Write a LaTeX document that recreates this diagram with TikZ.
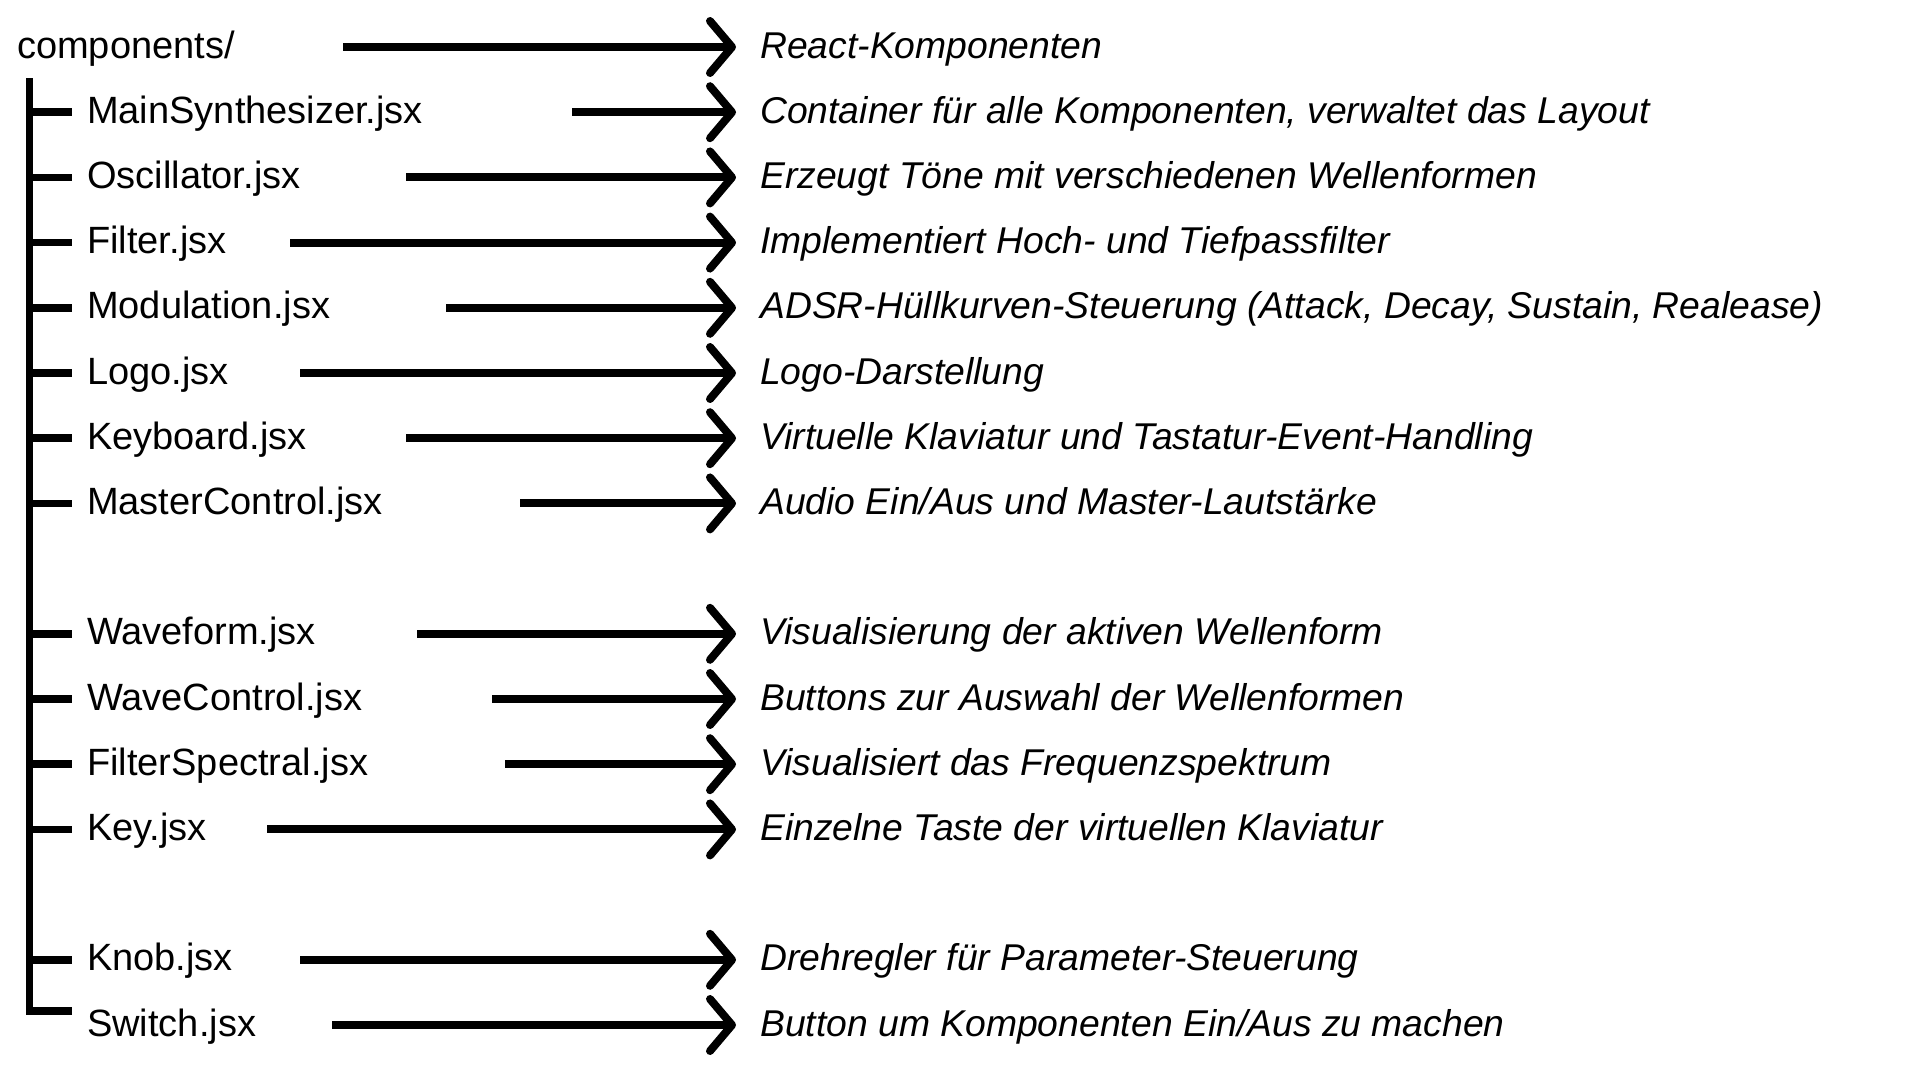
\documentclass[tikz,border=0pt]{standalone}
\usepackage{fontspec}
\setmainfont{Liberation Sans}
\usetikzlibrary{arrows.meta}
\begin{document}
\begin{tikzpicture}[x=1pt,y=-1pt,
  lbl/.style={anchor=base west, inner sep=0pt, font=\fontsize{38}{45}\selectfont},
  desc/.style={anchor=base west, inner sep=0pt, font=\fontsize{37.3}{44}\selectfont\itshape},
  conn/.style={line width=8pt, -{Straight Barb[length=22pt,width=52pt,round]}},
  tree/.style={line width=7.5pt, line join=miter}]
\useasboundingbox[fill=white] (0,0) rectangle (1920,1080);
% root
\node[lbl] (root) at (17,58) {components/};
\coordinate (s0) at (343,47);
\coordinate (t0) at (736,47);
\node[desc] (d0) at (760,58) {React-Komponenten};
\draw[conn] (s0) -- (t0);
% tree trunk
\coordinate (trunktop) at (29.5,78);
\coordinate (trunkbot) at (29.5,1011);
\coordinate (trunkend) at (72,1011);
\draw[tree] (trunktop) -- (trunkbot) -- (trunkend);
% rows
\foreach \i/\st/\lab/\dsc in {
  1/572/MainSynthesizer.jsx/{Container für alle Komponenten, verwaltet das Layout},
  2/406/Oscillator.jsx/{Erzeugt Töne mit verschiedenen Wellenformen},
  3/290/Filter.jsx/{Implementiert Hoch- und Tiefpassfilter},
  4/446/Modulation.jsx/{ADSR-Hüllkurven-Steuerung (Attack, Decay, Sustain, Realease)},
  5/300/Logo.jsx/{Logo-Darstellung},
  6/406/Keyboard.jsx/{Virtuelle Klaviatur und Tastatur-Event-Handling},
  7/520/MasterControl.jsx/{Audio Ein/Aus und Master-Lautstärke},
  9/417/Waveform.jsx/{Visualisierung der aktiven Wellenform},
  10/492/WaveControl.jsx/{Buttons zur Auswahl der Wellenformen},
  11/505/FilterSpectral.jsx/{Visualisiert das Frequenzspektrum},
  12/267/Key.jsx/{Einzelne Taste der virtuellen Klaviatur},
  14/300/Knob.jsx/{Drehregler für Parameter-Steuerung},
  15/332/Switch.jsx/{Button um Komponenten Ein/Aus zu machen}}{
  \pgfmathsetmacro\yy{47+65.2*\i}
  \node[lbl] (l\i) at (87,\yy+11) {\lab};
  \node[desc] (d\i) at (760,\yy+11) {\dsc};
  \coordinate (s\i) at (\st,\yy);
  \coordinate (t\i) at (736,\yy);
  \draw[conn] (s\i) -- (t\i);
}
% branches
\foreach \i in {1,2,3,4,5,6,7,9,10,11,12,14}{
  \pgfmathsetmacro\yy{47+65.2*\i}
  \coordinate (b\i) at (29.5,\yy);
  \coordinate (e\i) at (72,\yy);
  \draw[tree] (b\i) -- (e\i);
}
\end{tikzpicture}
\end{document}
